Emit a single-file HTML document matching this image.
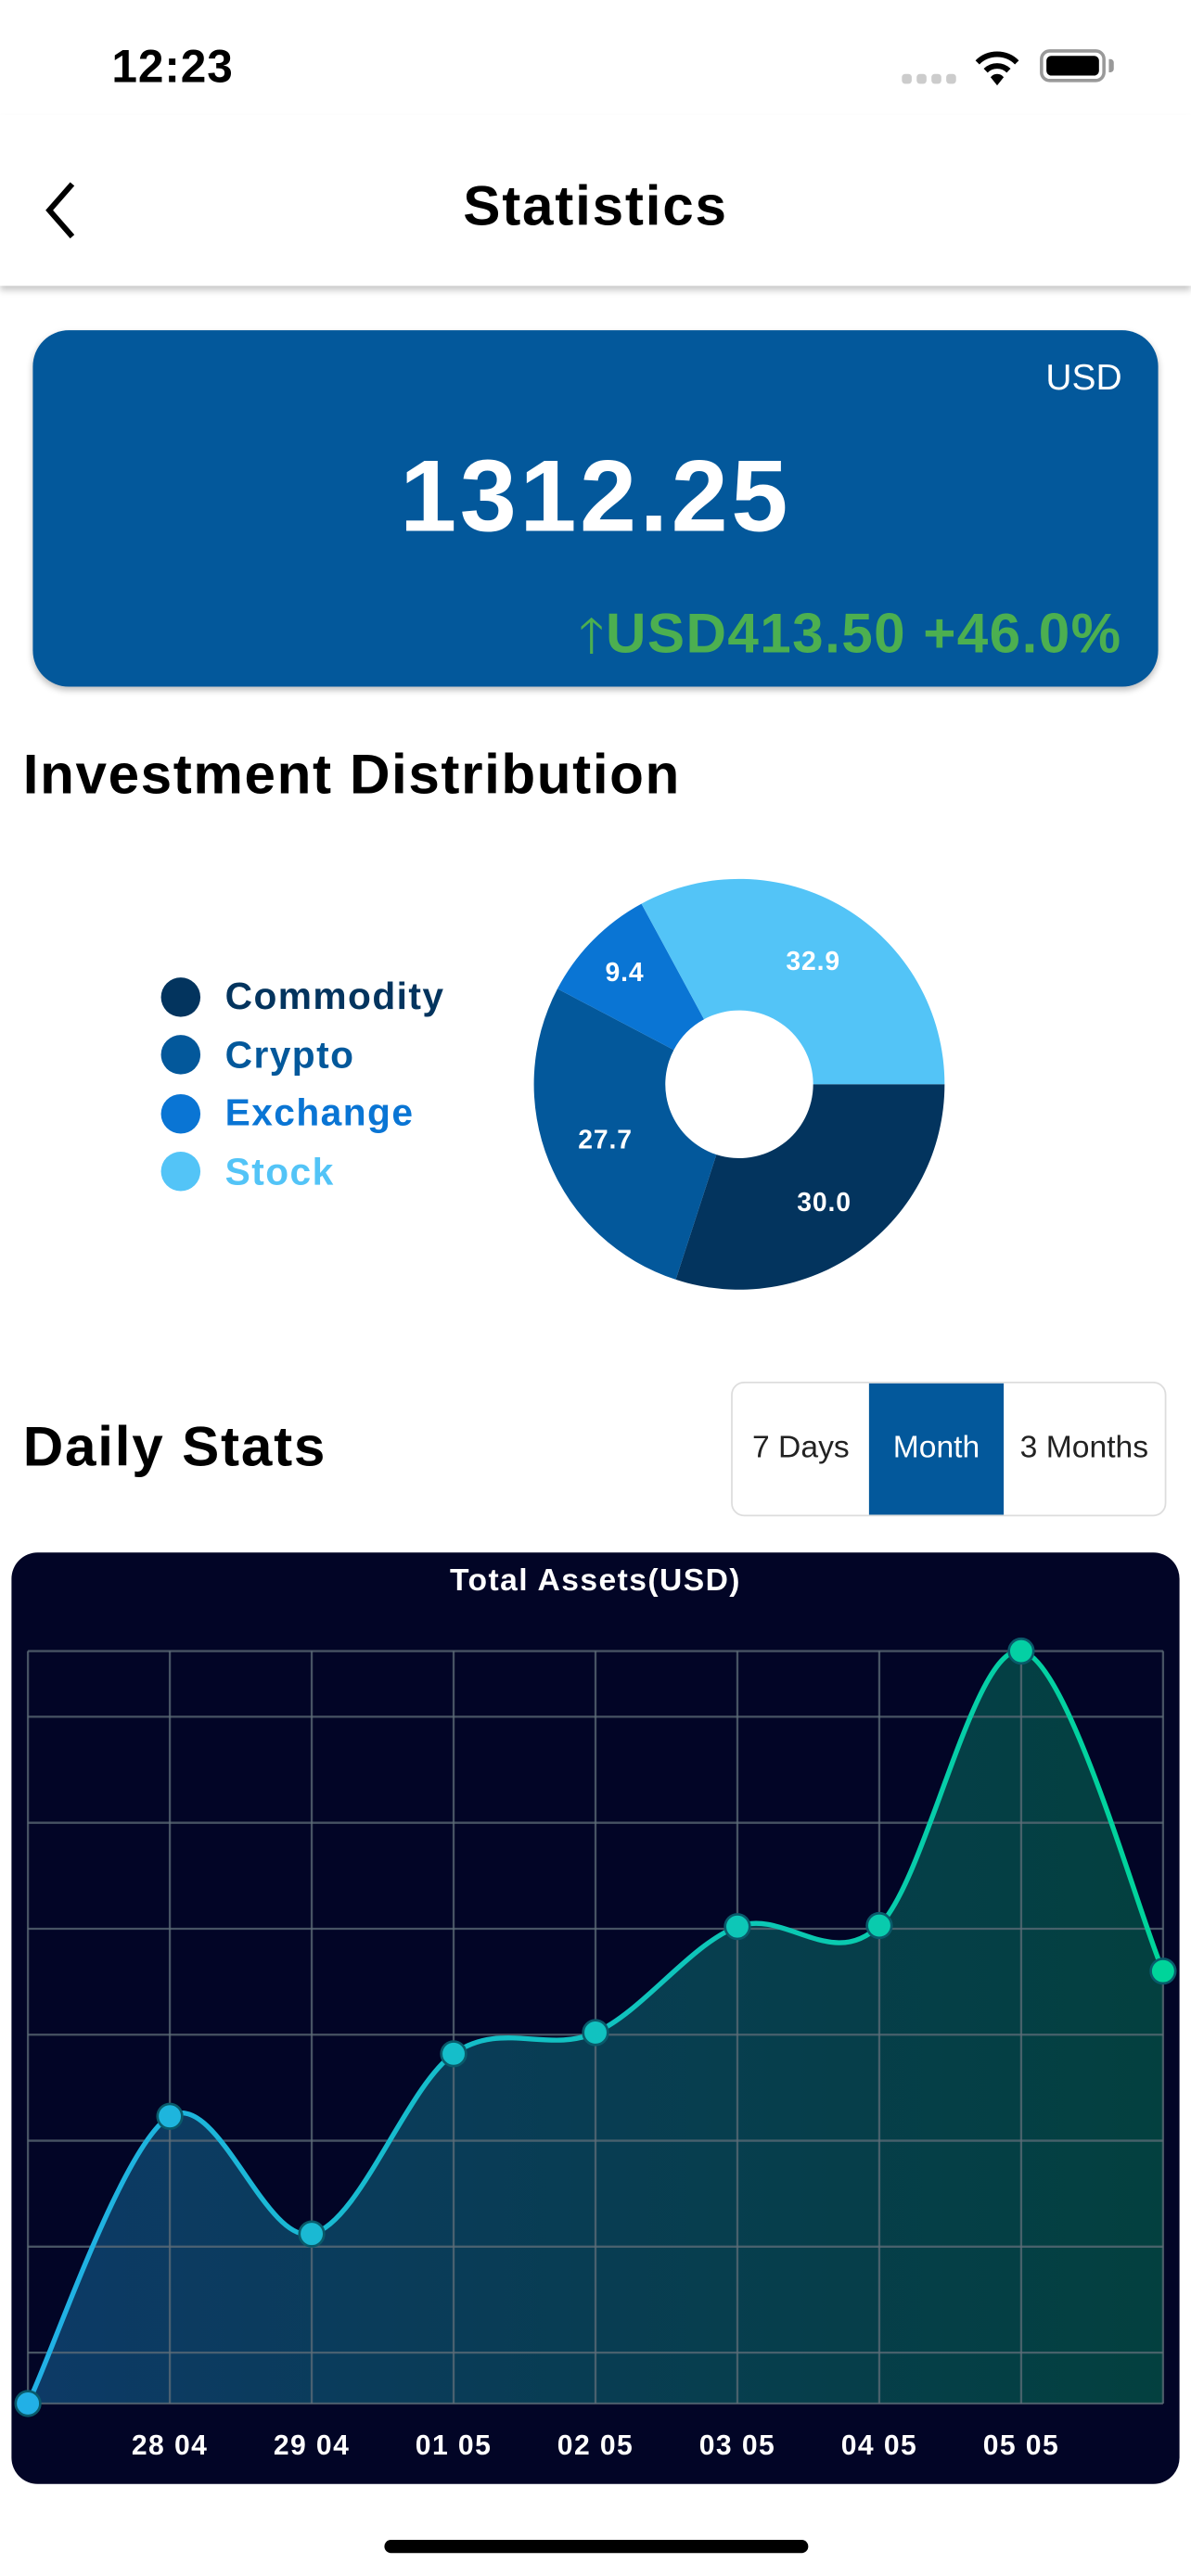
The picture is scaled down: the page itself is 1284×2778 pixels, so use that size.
<!DOCTYPE html>
<html><head><meta charset="utf-8">
<style>
html,body{margin:0;padding:0;background:#fff;overflow:hidden}
body{width:1284px;height:2778px}
#root{position:absolute;left:0;top:0;width:725px;height:1568px;transform-origin:0 0;transform:scale(1.77103,1.77168);font-family:"Liberation Sans",sans-serif;color:#000}
.abs{position:absolute}
</style></head><body>
<div id="root">
  <div class="abs" style="left:68px;top:25px;font-size:28px;font-weight:bold;letter-spacing:0.5px">12:23</div>
  <div class="abs" style="left:549px;top:45px;width:34px;height:6px;display:flex;gap:3px">
    <div style="width:6px;height:6px;border-radius:2px;background:#ccc"></div><div style="width:6px;height:6px;border-radius:2px;background:#ccc"></div><div style="width:6px;height:6px;border-radius:2px;background:#ccc"></div><div style="width:6px;height:6px;border-radius:2px;background:#ccc"></div>
  </div>
  <svg class="abs" style="left:593px;top:29px" width="28" height="24" viewBox="0 0 28 24"><path d="M2 9 A17 17 0 0 1 26 9" stroke="#000" stroke-width="3.4" fill="none"/><path d="M7 14 A10 10 0 0 1 21 14" stroke="#000" stroke-width="3.4" fill="none"/><path d="M10 18 L14 23 L18 18 A5 5 0 0 0 10 18Z" fill="#000"/></svg>
  <div class="abs" style="left:633px;top:30px;width:40px;height:20px;border:2px solid #999;border-radius:6px;box-sizing:border-box;padding:2px"><div style="width:100%;height:100%;background:#000;border-radius:3px"></div></div>
  <div class="abs" style="left:675px;top:36px;width:3px;height:8px;background:#999;border-radius:0 2px 2px 0"></div>

  <div class="abs" style="left:0;top:70px;width:725px;height:104px;background:#fff;box-shadow:0 3px 4px rgba(0,0,0,0.22)"></div>
  <svg class="abs" style="left:22px;top:108px" width="30" height="40" viewBox="0 0 30 40"><path d="M22 4 L8 20 L22 36" stroke="#000" stroke-width="3.4" fill="none"/></svg>
  <div class="abs" style="left:0;width:725px;top:107px;text-align:center;font-size:34px;font-weight:bold;letter-spacing:1px">Statistics</div>

  <div class="abs" style="left:20px;top:201px;width:685px;height:217px;background:#03589b;border-radius:22px;box-shadow:0 2px 4px rgba(0,0,0,0.25)">
    <div class="abs" style="right:22px;top:16px;color:#fff;font-size:22px">USD</div>
    <div class="abs" style="left:0;width:685px;top:66px;text-align:center;color:#fff;font-size:62px;font-weight:bold;letter-spacing:2px">1312.25</div>
    <div class="abs" style="right:22px;top:164px;color:#4caf50;font-size:34px;font-weight:bold;letter-spacing:0.8px;white-space:nowrap"><span style="font-weight:normal;font-size:30px">🡑</span>USD413.50 +46.0%</div>
  </div>

  <div class="abs" style="left:14px;top:453px;font-size:34px;font-weight:bold;letter-spacing:0.9px">Investment Distribution</div>
  <div class="abs" style="left:98px;top:589px;font-size:23px;font-weight:bold;line-height:35.5px;letter-spacing:0.8px">
    <div style="display:flex;align-items:center;color:#03345e"><span style="width:24px;height:24px;border-radius:50%;background:#03345e;margin-right:15px;display:inline-block"></span>Commodity</div>
    <div style="display:flex;align-items:center;color:#03589b"><span style="width:24px;height:24px;border-radius:50%;background:#03589b;margin-right:15px;display:inline-block"></span>Crypto</div>
    <div style="display:flex;align-items:center;color:#0a75d4"><span style="width:24px;height:24px;border-radius:50%;background:#0a75d4;margin-right:15px;display:inline-block"></span>Exchange</div>
    <div style="display:flex;align-items:center;color:#53c4f7"><span style="width:24px;height:24px;border-radius:50%;background:#53c4f7;margin-right:15px;display:inline-block"></span>Stock</div>
  </div>
  <svg id="donut" class="abs" style="left:0;top:0" width="725" height="820"></svg>

  <div class="abs" style="left:14px;top:862px;font-size:34px;font-weight:bold;letter-spacing:1px">Daily Stats</div>
  <div class="abs" style="left:445px;top:841px;width:265px;height:82px;border:1.5px solid #ddd;border-radius:8px;box-sizing:border-box;display:flex;overflow:hidden;font-size:19px;color:#222">
    <div style="width:83px;display:flex;align-items:center;justify-content:center">7 Days</div>
    <div style="width:82px;display:flex;align-items:center;justify-content:center;background:#03589b;color:#fff">Month</div>
    <div style="flex:1;display:flex;align-items:center;justify-content:center">3 Months</div>
  </div>

  <div class="abs" style="left:7px;top:945px;width:711px;height:567px;background:#020526;border-radius:16px"></div>
  <div class="abs" style="left:0;width:725px;top:952px;text-align:center;color:#fff;font-size:19px;font-weight:bold;letter-spacing:0.8px">Total Assets(USD)</div>
  <svg id="chart" class="abs" style="left:0;top:0" width="725" height="1568"></svg>

  <div class="abs" style="left:234px;top:1546px;width:258px;height:8px;background:#000;border-radius:4px"></div>
</div>
<script>
// donut data
const sliceNames = ["Commodity","Crypto","Exchange","Stock"];
const sliceValues = [30.0, 27.7, 9.4, 32.9];
const sliceColors = ["#03345e","#03589b","#0a75d4","#53c4f7"];
// line chart data
const dateLabels = ["","28 04","29 04","01 05","02 05","03 05","04 05","05 05",""];
const assetValues = [1052, 1323, 1212, 1382, 1402, 1502, 1503, 1762, 1460];
const yTicks = [1100, 1200, 1300, 1400, 1500, 1600, 1700];
const yMin = 1052, yMax = 1762;

const NS = "http://www.w3.org/2000/svg";
function mk(tag, attrs, parent){const e=document.createElementNS(NS,tag);for(const k in attrs)e.setAttribute(k,attrs[k]);parent.appendChild(e);return e;}

(function(){
  const svg=document.getElementById('donut');
  const cx=450, cy=660, R=125, r=45;
  const total=sliceValues.reduce((a,b)=>a+b,0);
  let a0=0;
  sliceValues.forEach((v,i)=>{
    const a1=a0+v/total*2*Math.PI;
    const large=(a1-a0)>Math.PI?1:0;
    const d=`M${cx+R*Math.cos(a0)} ${cy+R*Math.sin(a0)} A${R} ${R} 0 ${large} 1 ${cx+R*Math.cos(a1)} ${cy+R*Math.sin(a1)} L${cx+r*Math.cos(a1)} ${cy+r*Math.sin(a1)} A${r} ${r} 0 ${large} 0 ${cx+r*Math.cos(a0)} ${cy+r*Math.sin(a0)} Z`;
    const p=mk('path',{d:d,fill:sliceColors[i]},svg);
    
    
    const am=(a0+a1)/2, lr=i===2?98:88;
    const t=mk('text',{x:cx+lr*Math.cos(am),y:cy+lr*Math.sin(am)+6,fill:'#fff','font-size':16,'font-weight':'bold','text-anchor':'middle','font-family':'Liberation Sans, sans-serif','letter-spacing':0.5},svg);
    t.textContent=sliceValues[i].toFixed(1);
    
    
    a0=a1;
  });
})();

(function(){
  const svg=document.getElementById('chart');
  const L=17, Rr=708, T=1005, B=1463;
  const n=assetValues.length;
  const xs=i=>L+(Rr-L)*i/(n-1);
  const ys=v=>B-(v-yMin)/(yMax-yMin)*(B-T);
  const defs=mk('defs',{},svg);
  const lg=mk('linearGradient',{id:'lineG',x1:0,x2:1,y1:0,y2:0},defs);
  mk('stop',{offset:'0','stop-color':'#22b0e6'},lg);mk('stop',{offset:'1','stop-color':'#00d49a'},lg);
  const fg=mk('linearGradient',{id:'fillG',x1:0,x2:1,y1:0,y2:0},defs);
  mk('stop',{offset:'0','stop-color':'#0d3a66'},fg);mk('stop',{offset:'1','stop-color':'#03403f'},fg);
  const pts=assetValues.map((v,i)=>[xs(i),ys(v)]);
  let d=`M${pts[0][0]} ${pts[0][1]}`;
  for(let i=0;i<n-1;i++){
    const p0=pts[Math.max(0,i-1)],p1=pts[i],p2=pts[i+1],p3=pts[Math.min(n-1,i+2)];
    const k=1/6;
    d+=` C${p1[0]+(p2[0]-p0[0])*k} ${p1[1]+(p2[1]-p0[1])*k} ${p2[0]-(p3[0]-p1[0])*k} ${p2[1]-(p3[1]-p1[1])*k} ${p2[0]} ${p2[1]}`;
  }
  const area=mk('path',{d:d+` L${Rr} ${B} L${L} ${B} Z`,fill:'url(#fillG)'},svg);
  
  
  const gc='rgba(95,110,120,0.75)';
  const gridY=[yMax].concat(yTicks);
  gridY.forEach(v=>{
    const g=mk('line',{x1:L,x2:Rr,y1:ys(v),y2:ys(v),stroke:gc,'stroke-width':1.3},svg);
    
    
  });
  const ax=mk('line',{x1:L,x2:Rr,y1:B,y2:B,stroke:gc,'stroke-width':1.3},svg);
  
  
  dateLabels.forEach((lab,i)=>{
    const g=mk('line',{x1:xs(i),x2:xs(i),y1:T,y2:B,stroke:gc,'stroke-width':1.3},svg);
    
    
    if(lab){
      const t=mk('text',{x:xs(i),y:1494,fill:'#fff','font-size':17,'font-weight':'bold','text-anchor':'middle','font-family':'Liberation Sans, sans-serif','letter-spacing':0.8},svg);
      t.textContent=lab;
      
      
    }
  });
  const line=mk('path',{d:d,fill:'none',stroke:'url(#lineG)','stroke-width':3},svg);
  
  
  pts.forEach((p,i)=>{
    const f=i/(n-1);
    const col=`rgb(${Math.round(34-34*f)},${Math.round(176+36*f)},${Math.round(230-76*f)})`;
    const c=mk('circle',{cx:p[0],cy:p[1],r:7.5,fill:col,stroke:'#0a5a6a','stroke-width':1.5},svg);
    
    
  });
})();
</script>
</body></html>
